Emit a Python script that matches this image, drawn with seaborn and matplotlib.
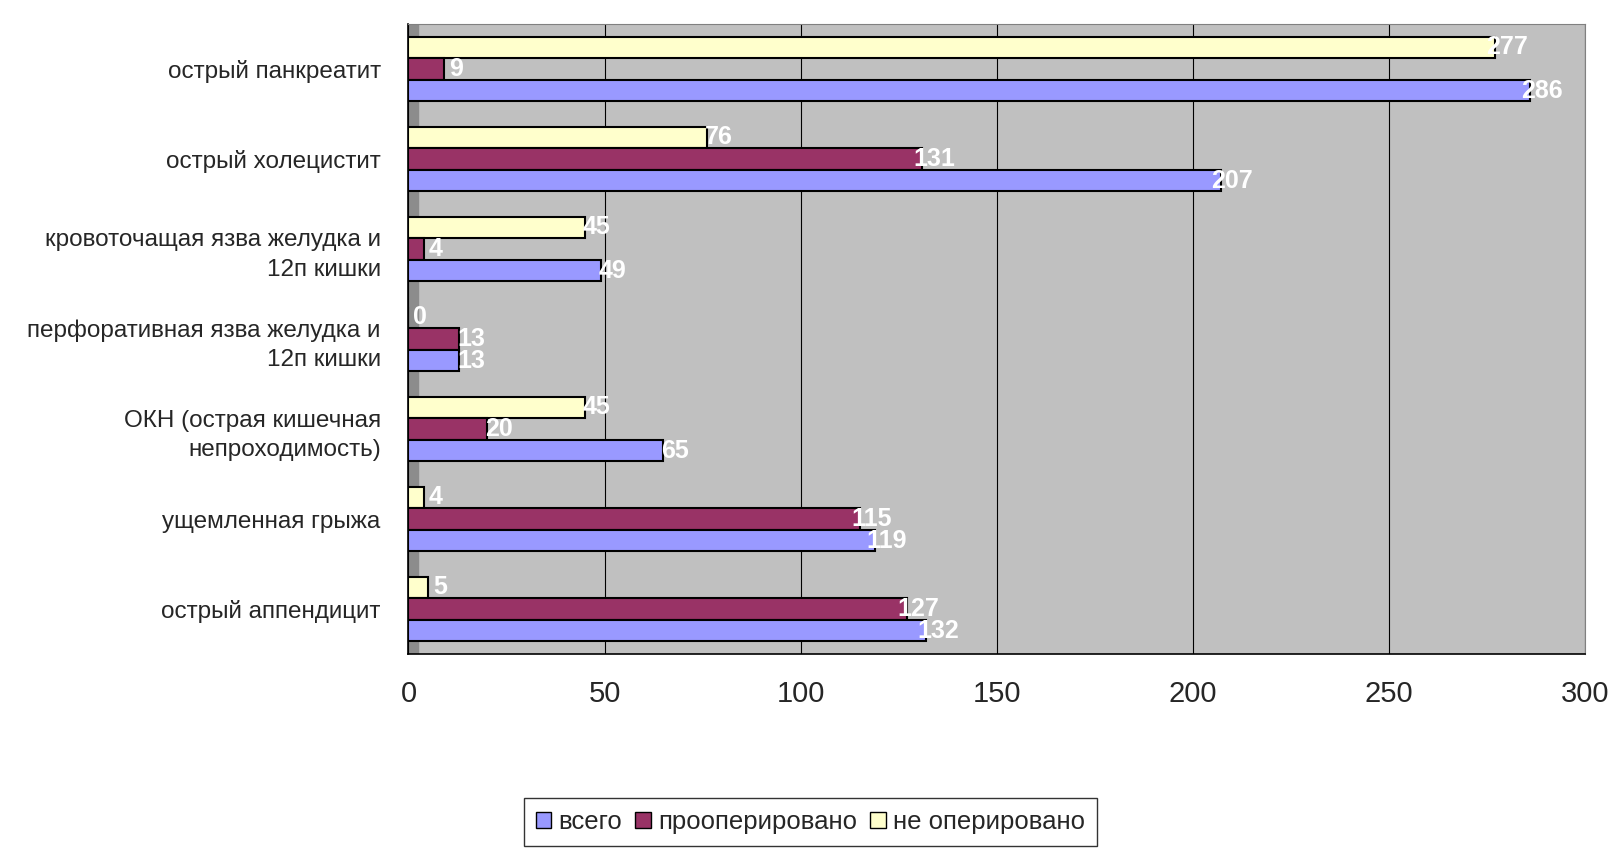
import matplotlib
matplotlib.use("Agg")
import matplotlib.pyplot as plt
from matplotlib.patches import Patch
import seaborn as sns
import pandas as pd
import numpy as np

categories = ["острый панкреатит", "острый холецистит",
              "кровоточащая язва желудка и\n12п кишки",
              "перфоративная язва желудка и\n12п кишки",
              "ОКН (острая кишечная\nнепроходимость)",
              "ущемленная грыжа", "острый аппендицит"]
vsego = [286, 207, 49, 13, 65, 119, 132]
prooperirovano = [9, 131, 4, 13, 20, 115, 127]
ne_operirovano = [277, 76, 45, 0, 45, 4, 5]

series = ["всего", "прооперировано", "не оперировано"]
colors = {"всего": "#9999FF", "прооперировано": "#993366", "не оперировано": "#FFFFCC"}

rows = []
for name, vals in zip(series, [vsego, prooperirovano, ne_operirovano]):
    for c, v in zip(categories, vals):
        rows.append({"cat": c, "value": v, "series": name})
df = pd.DataFrame(rows)

sns.set_style("white")
plt.rcParams["font.family"] = ["Liberation Sans", "DejaVu Sans"]

fig = plt.figure(figsize=(16.21, 8.55), dpi=100)
ax = fig.add_axes([0.252, 0.235, 0.726, 0.737])

hue_order = ["не оперировано", "прооперировано", "всего"]
sns.barplot(data=df, y="cat", x="value", hue="series", order=categories,
            hue_order=hue_order, palette=colors, orient="h", width=0.72,
            edgecolor="black", linewidth=1.5, saturation=1, ax=ax, legend=False)

ax.set_facecolor("#C0C0C0")
ax.axvspan(0, 2.4, color="#8C8C8C", zorder=0.5)
ax.set_xlim(0, 300)
ax.set_ylim(len(categories) - 0.5, -0.5)
ax.set_xticks(range(0, 301, 50))
ax.xaxis.grid(True, color="black", linewidth=0.8)
ax.set_axisbelow(True)
ax.set_xlabel("")
ax.set_ylabel("")

# category tick marks at group boundaries
ax.set_yticks(range(len(categories)))
ax.set_yticklabels(categories, fontsize=17.5, linespacing=1.45)
ax.set_yticks(np.arange(-0.5, len(categories)), minor=True)
ax.tick_params(axis="y", which="major", length=0, pad=20)
ax.tick_params(axis="y", which="minor", length=13, width=1, color="black")
ax.tick_params(axis="x", length=10, width=1, color="black", labelsize=21, pad=9)

for s in ["left", "bottom"]:
    ax.spines[s].set_color("black")
    ax.spines[s].set_linewidth(1.2)
for s in ["top", "right"]:
    ax.spines[s].set_color("#808080")

# value labels
for cont, name in zip(ax.containers, hue_order):
    for bar in cont:
        w = bar.get_width()
        yc = bar.get_y() + bar.get_height() / 2
        ax.text(w + 3, yc, f"{int(w)}", color="white", fontsize=18,
                fontweight="bold", ha="center", va="center")

handles = [Patch(facecolor=colors[s], edgecolor="black", label=s) for s in series]
leg = fig.legend(handles=handles, loc="lower center", bbox_to_anchor=(0.5, -0.004),
                 ncol=3, frameon=True, fontsize=18.5, handlelength=0.6,
                 handleheight=0.6, handletextpad=0.3, columnspacing=0.5,
                 fancybox=False, edgecolor="black", borderpad=0.45)

fig.savefig("out.png", dpi=100)
